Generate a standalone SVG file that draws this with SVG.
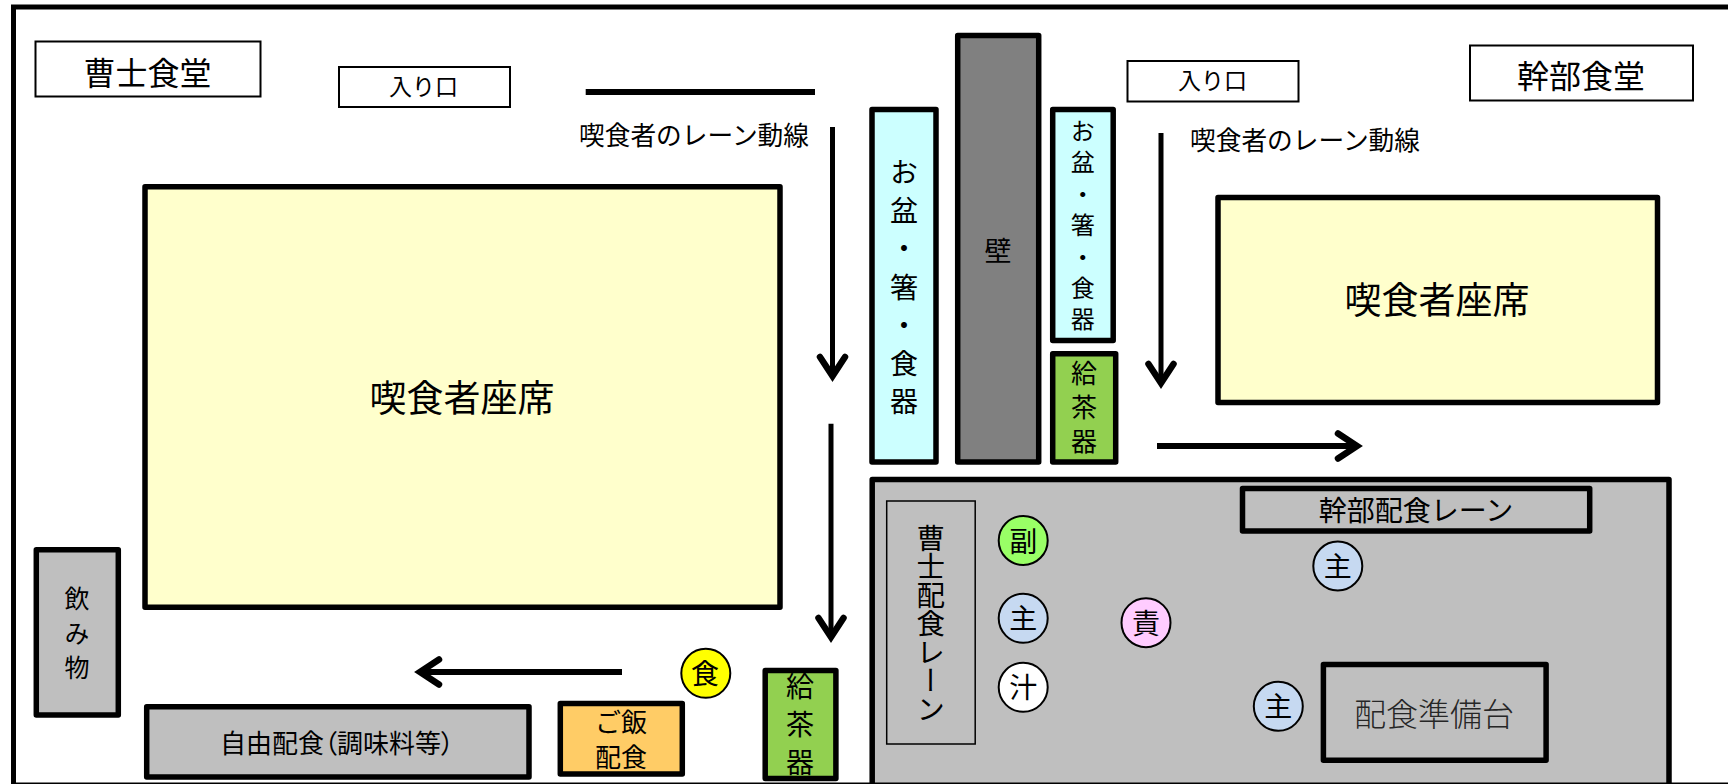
<svg xmlns="http://www.w3.org/2000/svg" width="1728" height="784" viewBox="0 0 1728 784">
<style>
text{font-family:"Noto Sans CJK JP","Noto Sans CJK SC",sans-serif;fill:#000;text-anchor:middle;dominant-baseline:central}
.v{writing-mode:vertical-rl;dominant-baseline:auto}
.thin{fill:#fff;stroke:#000;stroke-width:2}
.box{stroke:#000;stroke-width:5.5;stroke-linejoin:round}
.yellow{fill:#FFFFCC}.grey{fill:#BFBFBF}.cyan{fill:#CCFFFF}.green{fill:#92D050}.dark{fill:#808080}.orange{fill:#FFCC66}
.c{stroke:#000;stroke-width:2}
.conn{stroke:#000;stroke-width:5;fill:none}
.palt{font-feature-settings:"palt"}
.light{font-weight:300;fill:#262626}
</style>
<defs>
<marker id="arrow" markerUnits="userSpaceOnUse" markerWidth="40" markerHeight="40" refX="0" refY="0" orient="auto" overflow="visible">
<path d="M-19,-12.5 L0,0 L-19,12.5" fill="none" stroke="#000" stroke-width="6.5" stroke-linecap="round"/>
</marker>
</defs>
<rect width="1728" height="784" fill="#fff"/>
<g id="seats-left"><rect class="box yellow" x="145" y="186.7" width="635" height="420.5"/><text x="462" y="396" font-size="37">喫食者座席</text></g>
<g id="seats-right"><rect class="box yellow" x="1218" y="197.5" width="439.5" height="205"/><text x="1437" y="297.5" font-size="37">喫食者座席</text></g>
<g id="title-left"><rect class="thin" x="35.5" y="41.5" width="225" height="55"/><text x="147.5" y="70.5" font-size="32">曹士食堂</text></g>
<g id="entrance-left"><rect class="thin" x="339" y="67" width="171" height="40"/><text x="423.5" y="84.7" font-size="23">入り口</text></g>
<g id="entrance-right"><rect class="thin" x="1127.5" y="61" width="171" height="40.5"/><text x="1212.5" y="79" font-size="23">入り口</text></g>
<g id="title-right"><rect class="thin" x="1470" y="45.5" width="223" height="55"/><text x="1581" y="74" font-size="32">幹部食堂</text></g>
<g id="lane-label-left"><text x="694" y="133.7" font-size="25.7">喫食者のレーン動線</text></g>
<g id="lane-label-right"><text x="1305" y="138" font-size="25.7">喫食者のレーン動線</text></g>
<g id="trays-left"><rect class="box cyan" x="872" y="109.5" width="64" height="352.5"/><text class="v" x="904" y="292" font-size="28" letter-spacing="10.2">お盆・箸・食器</text></g>
<g id="wall"><rect class="box dark" x="957.7" y="35.5" width="81" height="426.5"/><text x="998" y="249" font-size="27">壁</text></g>
<g id="trays-right"><rect class="box cyan" x="1052.7" y="109.5" width="60.5" height="231"/><text class="v" x="1082.7" y="228.7" font-size="24" letter-spacing="7.4">お盆・箸・食器</text></g>
<g id="tea-right"><rect class="box green" x="1052.7" y="353.7" width="63" height="108.3"/><text class="v" x="1084" y="411.5" font-size="26" letter-spacing="8">給茶器</text></g>
<g id="drinks"><rect class="box grey" x="36.3" y="549.7" width="82" height="165.3"/><text class="v" x="77" y="637.8" font-size="25" letter-spacing="9.5">飲み物</text></g>
<g id="self-service"><rect class="box grey" x="146.7" y="706.7" width="382.3" height="70.3"/><text class="palt" x="337" y="741" font-size="26" textLength="234" lengthAdjust="spacing">自由配食（調味料等）</text></g>
<g id="rice"><rect class="box orange" x="560.3" y="703.4" width="122" height="70.6"/><text x="621" y="720" font-size="26">ご飯</text><text x="621" y="755" font-size="26">配食</text></g>
<g id="tea-left"><rect class="box green" x="765.2" y="670.4" width="70.7" height="108"/><text class="v" x="800" y="724.5" font-size="28"><tspan letter-spacing="10">給茶</tspan>器</text></g>
<g id="staff-food"><circle class="c" cx="705.8" cy="673.3" r="24.5" fill="#FFFF00"/><text x="705" y="672.3" font-size="28">食</text></g>
<g id="kitchen"><rect class="box grey" x="872.2" y="479.4" width="796.8" height="320"/></g>
<g id="lane-nco"><rect x="886.7" y="501" width="88.5" height="243" fill="none" stroke="#000" stroke-width="1.5"/><text class="v" x="930.7" y="623.5" font-size="28.5">曹士配食レーン</text></g>
<g id="lane-officer"><rect class="box" fill="none" x="1242.5" y="488.4" width="347.2" height="42.6"/><text x="1416" y="509.3" font-size="28">幹部配食レーン</text></g>
<g id="prep-table"><rect class="box" fill="none" x="1323.4" y="664.4" width="222.7" height="95.9"/><text class="light" x="1434" y="712" font-size="32">配食準備台</text></g>
<g id="staff-side"><circle class="c" cx="1023.2" cy="540.5" r="24.5" fill="#99FF66"/><text x="1023.2" y="539.5" font-size="28">副</text></g>
<g id="staff-main-1"><circle class="c" cx="1023.2" cy="618.3" r="24.5" fill="#C6D9F1"/><text x="1023.2" y="617.3" font-size="28">主</text></g>
<g id="staff-soup"><circle class="c" cx="1023.2" cy="687.3" r="24.5" fill="#FFFFFF"/><text x="1023.2" y="686.3" font-size="28">汁</text></g>
<g id="staff-chief"><circle class="c" cx="1146" cy="622.7" r="24.5" fill="#FFCCFF"/><text x="1146" y="621.7" font-size="28">責</text></g>
<g id="staff-main-2"><circle class="c" cx="1337.8" cy="566" r="24.5" fill="#C6D9F1"/><text x="1337.8" y="565" font-size="28">主</text></g>
<g id="staff-main-3"><circle class="c" cx="1278.3" cy="706.3" r="24.5" fill="#C6D9F1"/><text x="1278.3" y="705.3" font-size="28">主</text></g>
<g id="connectors">
<line class="conn" style="stroke-width:6" x1="585.7" y1="92" x2="815" y2="92"/>
<line class="conn" x1="832.5" y1="127" x2="832.5" y2="376" marker-end="url(#arrow)"/>
<line class="conn" x1="831" y1="423.7" x2="831" y2="637" marker-end="url(#arrow)"/>
<line class="conn" style="stroke-width:6" x1="622" y1="672" x2="420" y2="672" marker-end="url(#arrow)"/>
<line class="conn" x1="1161" y1="133" x2="1161" y2="383" marker-end="url(#arrow)"/>
<line class="conn" style="stroke-width:6" x1="1157" y1="446" x2="1357" y2="446" marker-end="url(#arrow)"/>
</g>
<rect id="frame" x="13.5" y="7" width="1730" height="778" fill="none" stroke="#000" stroke-width="5"/>
</svg>
